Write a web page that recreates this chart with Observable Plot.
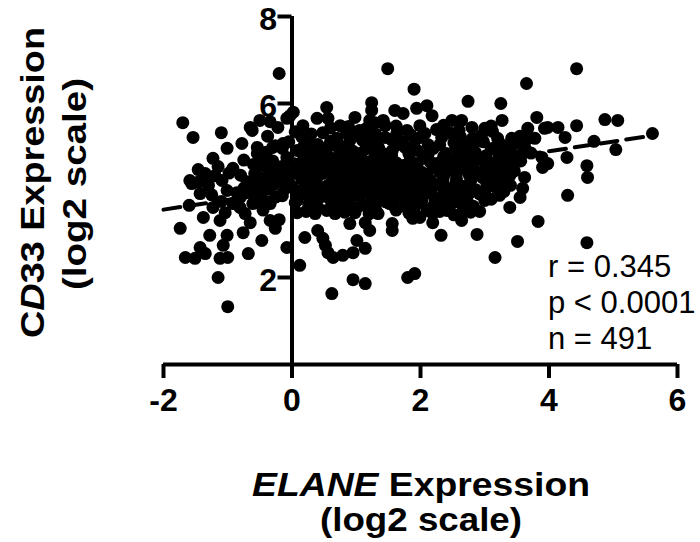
<!DOCTYPE html>
<html>
<head>
<meta charset="utf-8">
<script src="https://cdn.jsdelivr.net/npm/d3@7"></script>
<script src="https://cdn.jsdelivr.net/npm/@observablehq/plot@0.6"></script>
<style>
  body { margin: 0; background: #fff; }
  svg { display: block; }
</style>
</head>
<body>
<div id="chart"></div>
<script>
// ELANE (x) vs CD33 (y) expression, log2 scale
const points = [
  // low ELANE (x < 0)
  [-1.70,5.56],[-1.54,5.22],[-1.10,5.33],[-1.01,4.97],[-1.23,4.74],[-0.92,4.51],[-1.46,4.48],[-1.59,4.23],
  [-0.62,5.38],[-0.50,5.61],[-0.54,4.99],[-0.54,4.85],[-0.75,4.70],[-0.65,5.45],[-0.30,4.99],[-0.34,5.58],
  [-0.58,4.39],[-0.34,4.43],[-0.39,4.07],[-0.19,4.23],[-0.03,5.72],[-0.14,5.08],[-0.08,4.76],[-0.20,6.69],
  [-0.26,5.03],[-0.22,5.45],[-0.08,5.66],[0.02,5.80],[-0.03,4.39],[-1.56,4.16],[-1.43,3.93],[-1.60,3.66],
  [-1.35,4.39],[-1.09,4.23],[-1.20,4.34],[-1.74,3.13],[-1.38,3.38],[-1.28,2.97],[-1.43,2.69],[-1.66,2.46],
  [-1.51,2.44],[-1.35,2.55],[-1.12,2.44],[-1.00,2.46],[-1.07,2.74],[-1.15,2.00],[-1.00,1.33],[-1.01,2.97],
  [-1.12,3.31],[-1.04,3.49],[-1.23,3.61],[-0.92,3.70],[-1.01,4.00],[-0.86,3.95],[-0.73,3.47],[-0.76,3.03],
  [-0.65,3.26],[-0.68,2.55],[-0.47,2.85],[-0.34,3.31],[-0.26,3.13],[-0.20,3.33],[-0.34,3.70],[-0.61,3.70],
  [-0.65,4.00],[-0.45,4.00],[-0.50,4.30],[-0.81,3.61],[-0.80,4.35],[-0.10,4.05],[-0.08,2.69],[-1.30,4.12],
  [-0.70,4.20],[-0.25,3.85],[-0.45,3.55],[-1.45,4.20],[-1.25,3.90],[-0.98,4.40],[-0.75,4.05],[-1.15,4.55],
  [-0.80,3.85],[-1.10,3.75],[-0.40,4.55],[-0.60,4.60],[-0.38,5.25],[-0.78,5.08],[-0.58,4.18],[-0.55,4.05],
  [-0.48,3.80],[-0.50,4.58],[-0.42,4.75],[-0.30,4.36],[-0.15,4.97],
  // ELANE 0 to 2
  [0.17,5.49],[0.39,5.66],[0.54,5.91],[0.48,5.33],[0.23,5.15],[0.28,4.92],[0.48,4.76],[0.08,4.92],
  [0.12,4.62],[0.28,4.39],[0.02,4.62],[0.08,4.39],[0.75,5.49],[0.98,5.68],[0.59,4.76],[0.75,4.85],
  [0.90,5.15],[1.10,5.15],[1.21,5.61],[1.42,5.61],[1.73,5.77],[1.63,5.31],[1.99,5.49],[0.23,4.51],
  [0.79,4.30],[0.33,4.00],[0.59,3.93],[0.08,3.77],[0.54,3.54],[0.90,4.00],[1.01,3.61],[1.21,3.93],
  [1.37,4.16],[1.52,3.70],[1.73,3.84],[1.94,3.70],[2.10,3.54],[1.10,4.46],[1.42,4.53],[1.63,4.46],
  [1.84,4.69],[1.49,6.80],[1.24,6.02],[1.24,5.84],[1.60,5.84],[1.94,5.89],[0.56,5.66],[1.29,5.56],
  [1.45,5.49],[1.79,5.38],[1.18,5.20],[1.45,5.22],[0.72,4.99],[0.79,4.69],[1.03,4.76],[1.29,4.85],
  [1.56,4.92],[1.76,4.99],[0.47,4.39],[1.09,4.39],[1.76,4.39],[0.82,4.23],[0.08,3.49],[0.05,3.72],
  [0.36,3.47],[0.40,3.08],[0.48,2.90],[0.20,2.92],[0.12,2.28],[0.56,2.57],[0.64,2.46],[0.79,2.51],
  [0.95,2.57],[1.14,2.67],[1.01,2.85],[1.21,3.08],[1.14,3.26],[0.90,3.24],[0.67,3.47],[0.98,3.49],
  [1.34,3.47],[1.56,3.24],[1.56,3.08],[1.88,3.36],[1.60,3.82],[1.29,3.70],[0.62,1.63],[0.95,1.95],
  [1.14,1.86],[1.80,2.00],[1.91,2.09],[0.52,2.74],[0.00,4.10],[0.20,4.15],[0.45,4.05],[0.65,4.20],
  [0.90,4.10],[1.10,4.20],[1.30,4.05],[1.55,4.15],[1.80,4.10],[1.95,4.20],
  // ELANE 2 to 4
  [3.65,6.46],[1.90,6.33],[2.74,6.05],[3.25,6.00],[3.27,5.61],[2.10,5.95],[2.18,5.72],[2.49,5.61],
  [2.64,5.61],[3.00,5.43],[3.81,5.68],[3.67,5.43],[3.93,5.43],[3.67,5.20],[3.78,5.20],[3.42,5.20],
  [3.90,4.53],[3.62,4.30],[3.36,4.76],[3.16,4.99],[2.07,5.31],[2.33,5.22],[2.81,5.20],[3.98,5.45],
  [3.89,4.76],[3.59,4.05],[3.39,4.34],[3.47,5.08],[3.23,3.89],[3.39,3.61],[3.55,3.84],[3.03,4.18],
  [3.00,3.77],[2.77,3.95],[2.50,3.82],[2.30,3.70],[2.66,3.54],[2.19,3.47],[3.83,3.29],[3.51,2.83],
  [3.16,2.46],[2.88,2.99],[2.32,2.97],[2.64,3.31],[2.19,3.26],[2.41,3.54],[1.99,3.38],[2.22,3.82],
  // ELANE above 4
  [4.14,5.45],[4.25,5.22],[4.43,5.49],[4.28,4.76],[4.43,6.80],[4.87,5.63],[5.07,5.61],[5.61,5.31],
  [4.70,5.13],[5.04,4.94],[3.98,4.62],[4.59,4.57],[4.60,4.30],[4.29,3.89],[4.59,2.80],
  // dense core
  [0.05,5.35],[0.30,5.30],[0.85,5.32],[1.05,5.38],[1.85,5.28],[2.25,5.40],[2.45,5.33],[2.60,5.38],
  [2.95,5.27],[3.12,5.36],[-0.05,5.12],[0.40,5.06],[0.60,5.14],[1.30,5.08],[1.72,5.12],[1.92,5.16],
  [2.12,5.05],[2.52,5.10],[2.68,5.02],[2.98,5.12],[3.28,5.04],[3.62,5.01],[-0.40,4.88],[0.45,4.93],
  [0.95,4.90],[1.15,4.96],[1.40,4.86],[1.95,4.92],[2.20,4.97],[2.40,4.85],[2.60,4.93],[2.85,4.88],
  [3.02,4.80],[3.25,4.91],[3.72,4.86],[-0.30,4.68],[-0.16,4.55],[0.32,4.72],[0.65,4.62],[0.92,4.74],
  [1.20,4.66],[1.42,4.72],[1.62,4.64],[2.05,4.74],[2.26,4.62],[2.50,4.70],[2.72,4.66],[2.90,4.72],
  [3.12,4.62],[3.56,4.68],[-0.22,4.47],[0.10,4.50],[0.40,4.56],[0.70,4.48],[0.96,4.54],[1.26,4.44],
  [1.86,4.50],[2.02,4.42],[2.20,4.53],[2.45,4.46],[2.66,4.52],[2.86,4.44],[3.06,4.50],[3.30,4.55],
  [3.46,4.45],[-0.45,4.24],[-0.10,4.32],[0.15,4.27],[0.62,4.35],[0.98,4.28],[1.24,4.31],[1.60,4.26],
  [1.96,4.34],[2.15,4.24],[2.36,4.32],[2.56,4.27],[2.76,4.35],[2.96,4.30],[3.20,4.22],[-0.28,4.14],
  [0.30,4.02],[0.56,4.12],[0.76,4.06],[1.02,4.14],[1.20,4.04],[1.45,4.08],[1.70,4.16],[2.02,4.06],
  [2.25,4.13],[2.46,4.04],[2.66,4.10],[2.86,4.02],[3.16,4.08],[3.40,4.12],[-0.15,3.88],[0.16,3.92],
  [0.46,3.86],[0.72,3.95],[1.06,3.88],[1.36,3.84],[1.66,3.94],[1.86,3.86],[2.06,3.92],[2.36,3.95],
  [2.60,3.88],[2.92,3.92],[0.26,3.68],[0.76,3.72],[1.12,3.66],[1.46,3.74],[1.76,3.64],[2.02,3.76],
  [2.46,3.66],[2.62,3.72],[2.82,3.64],[0.22,3.52],[0.82,3.50],[1.20,3.46],[1.62,3.55],[1.82,3.48],
  [2.52,3.44],[2.92,3.52],
  [0.60,5.44],[0.88,5.47],[1.15,5.42],[1.62,5.48],[2.36,5.50],[2.80,5.45],[3.10,5.48],
  [0.15,5.24],[0.70,5.20],[0.98,5.26],[1.30,5.30],[1.55,5.17],[2.00,5.22],[2.62,5.24],[2.88,5.14],
  [3.20,5.20],[3.55,5.25],[0.18,5.01],[0.55,4.98],[0.85,5.02],[1.35,4.98],[1.62,5.04],[1.88,5.00],
  [2.30,5.05],[2.55,4.98],[2.75,5.06],[3.10,4.96],[3.40,4.92],[3.58,4.84],[0.18,4.82],[0.42,4.80],
  [0.82,4.82],[1.08,4.86],[1.55,4.80],[1.82,4.84],[2.12,4.84],[2.36,4.78],[2.62,4.80],[2.80,4.83],
  [3.22,4.76],[3.45,4.80],[0.22,4.62],[0.55,4.58],[0.82,4.58],[1.08,4.62],[1.32,4.58],[1.52,4.60],
  [1.75,4.58],[1.95,4.62],[2.15,4.66],[2.38,4.58],[2.60,4.62],[2.80,4.58],[3.00,4.64],[3.25,4.64],
  [3.45,4.60],[0.18,4.38],[0.55,4.44],[0.85,4.40],[1.15,4.36],[1.35,4.42],[1.55,4.38],[1.90,4.40],
  [2.10,4.36],[2.30,4.42],[2.56,4.38],[2.75,4.46],[2.96,4.40],[3.15,4.38],[3.28,4.44],[-0.05,4.18],
  [0.38,4.22],[0.82,4.16],[1.32,4.22],[1.50,4.30],[1.82,4.26],[2.08,4.18],[2.35,4.22],[2.55,4.16],
  [2.78,4.22],[3.05,4.26],[3.30,4.20],[0.10,3.98],[0.42,3.96],[0.65,4.02],[0.88,3.92],[1.12,3.98],
  [1.32,3.94],[1.58,4.02],[1.90,3.98],[2.16,4.00],[2.40,3.90],[2.56,3.98],[2.78,4.06],[3.00,3.98],
  [3.30,3.98],[0.30,3.80],[0.60,3.78],[0.90,3.80],[1.25,3.78],[1.52,3.86],[1.95,3.82],[2.20,3.64],
  [2.72,3.80],[3.10,3.80],[0.40,3.62],[0.65,3.62],[0.92,3.62],[1.30,3.58],[1.58,3.66],[1.90,3.58],
  [2.30,3.52],[2.78,3.50]
];

// dashed linear fit at its two ends
const fitElane = [-2, 5.6];
const fitCd33 = [3.56, 5.26];

const xTicks = [-2, 0, 2, 4, 6];
const xTickLabels = ["-2", "0", "2", "4", "6"];
const yTicks = [2, 4, 6, 8];
const yTickLabels = ["2", "4", "6", "8"];
const statLines = ["r = 0.345", "p < 0.0001", "n = 491"];

const W = 700, H = 542, mL = 163, mR = 23, mT = 16, mB = 178;
const xDomain = [-2, 6], yDomain = [0, 8];
const yAxisShift = (0 - xDomain[0]) / (xDomain[1] - xDomain[0]) * (W - mL - mR);
const font = "'Liberation Sans', Arial, Helvetica, sans-serif";

const fitData = fitElane.map((x, i) => ({x, y: fitCd33[i]}));

const chart = Plot.plot({
  width: W, height: H,
  marginLeft: mL, marginRight: mR, marginTop: mT, marginBottom: mB,
  style: {fontFamily: font, color: "#000", background: "#fff", overflow: "visible"},
  x: {domain: xDomain, nice: false},
  y: {domain: yDomain, nice: false},
  marks: [
    Plot.axisX(xTicks, {tickFormat: d => xTickLabels[xTicks.indexOf(d)], tickSize: 14, tickPadding: 10,
      strokeWidth: 4, fontSize: 32, fontWeight: "bold", label: null}),
    Plot.axisY(yTicks, {tickFormat: () => "", tickSize: 14, strokeWidth: 4, label: null, dx: yAxisShift}),
    Plot.text(yTicks, {y: d => d, text: d => yTickLabels[yTicks.indexOf(d)], frameAnchor: "left",
      dx: yAxisShift - 15, dy: 3, textAnchor: "end", fontSize: 32, fontWeight: "bold", fill: "#000"}),
    Plot.ruleY([0], {x1: xDomain[0], x2: xDomain[1], stroke: "#000", strokeWidth: 4}),
    Plot.ruleX([0], {y1: yDomain[0], y2: yDomain[1], stroke: "#000", strokeWidth: 4}),
    Plot.dot(points, {x: d => d[0], y: d => d[1], r: 6.5, fill: "#000", stroke: null}),
    Plot.line(fitData, {x: "x", y: "y", stroke: "#000", strokeWidth: 4, strokeDasharray: "17,9"})
  ]
});

document.getElementById("chart").appendChild(chart);

const svg = d3.select(chart);
function addText(parts, {x, y, rotate = false, size, weight = "bold", anchor = "middle", length = null}) {
  const t = svg.append("text")
    .attr("font-family", font)
    .attr("font-size", size)
    .attr("font-weight", weight)
    .attr("text-anchor", anchor)
    .attr("fill", "#000");
  if (rotate) t.attr("transform", `translate(${x},${y}) rotate(-90)`);
  else t.attr("x", x).attr("y", y);
  if (length) t.attr("textLength", length).attr("lengthAdjust", "spacingAndGlyphs");
  parts.forEach(p => t.append("tspan").attr("font-style", p.italic ? "italic" : "normal").text(p.text));
}

// y-axis title
addText([{text: "C"}, {text: "D", italic: true}, {text: "33 Expression"}], {x: 44, y: 182.5, rotate: true, size: 34, length: 311});
addText([{text: "(log2 scale)"}], {x: 86, y: 184, rotate: true, size: 34, length: 212});
// x-axis title
addText([{text: "ELANE", italic: true}, {text: " Expression"}], {x: 421, y: 496, size: 34, length: 338});
addText([{text: "(log2 scale)"}], {x: 421, y: 531, size: 34, length: 202});
// statistics
statLines.forEach((s, i) => addText([{text: s}], {x: 548, y: 277 + i * 36, size: 31, weight: "normal", anchor: "start"}));
</script>
</body>
</html>
